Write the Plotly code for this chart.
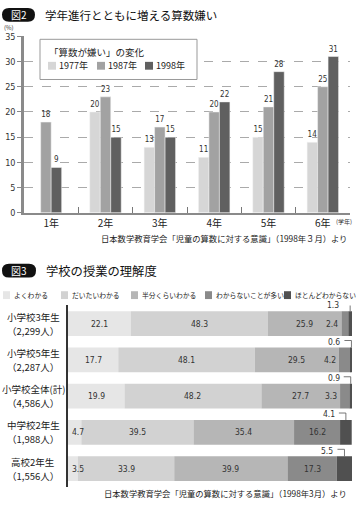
import plotly.graph_objects as go

W, H = 356, 505

# ---------------- Figure 2 data ----------------
grades = ["1年", "2年", "3年", "4年", "5年", "6年"]
years = ["1977年", "1987年", "1998年"]
dislike_1977 = [None, 20, 13, 11, 15, 14]
dislike_1987 = [18, 23, 17, 20, 21, 25]
dislike_1998 = [9, 15, 15, 22, 28, 31]
pct_ticks = [0, 5, 10, 15, 20, 25, 30, 35]

# ---------------- Figure 3 data ----------------
groups = ["小学校3年生", "小学校5年生", "小学校全体(計)", "中学校2年生", "高校2年生"]
group_n = ["（2,299人）", "（2,287人）", "（4,586人）", "（1,988人）", "（1,556人）"]
levels = ["よくわかる", "だいたいわかる", "半分くらいわかる", "わからないことが多い", "ほとんどわからない"]
yoku = [22.1, 17.7, 19.9, 4.7, 3.5]
daitai = [48.3, 48.1, 48.2, 39.5, 33.9]
hanbun = [25.9, 29.5, 27.7, 35.4, 39.9]
wakaranai = [2.4, 4.2, 3.3, 16.2, 17.3]
hotondo = [1.3, 0.6, 0.9, 4.1, 5.5]

# ---------------- styles ----------------
JP = "Noto Sans CJK JP"
NUM = "DejaVu Sans Condensed, Liberation Sans Narrow, Liberation Sans, Arial"
c2 = ["#d6d6d6", "#a2a2a2", "#606060"]
c3 = ["#e6e6e6", "#d2d2d2", "#b6b6b6", "#8a8a8a", "#505050"]


def px(x):
    return x / W


def py(y):
    return 1 - y / H


fig = go.Figure()

# ---- Figure 2 bars (grouped, with missing series collapsed) ----
series2 = [dislike_1977, dislike_1987, dislike_1998]
BW = 0.193
offsets = [[None] * len(grades) for _ in series2]
for k in range(len(grades)):
    present = [s for s in range(len(series2)) if series2[s][k] is not None]
    n = len(present)
    for j, s in enumerate(present):
        offsets[s][k] = -n * BW / 2 + j * BW
for s, vals in enumerate(series2):
    fig.add_trace(go.Bar(
        x=grades, y=vals, width=BW,
        offset=[o if o is not None else 0 for o in offsets[s]],
        marker=dict(color=c2[s], line=dict(color="#f4f4f4", width=0.5)),
        text=[str(v) if v is not None else "" for v in vals],
        textposition="outside", cliponaxis=False,
        textfont=dict(family=NUM, size=8, color="#333"),
        name=years[s], showlegend=False, xaxis="x", yaxis="y",
    ))

# ---- Figure 3 bars (stacked via base) ----
series3 = [yoku, daitai, hanbun, wakaranai, hotondo]
rows = list(range(len(groups)))
bases = []
cum = [0.0] * len(groups)
for vals in series3:
    bases.append(list(cum))
    cum = [c + v for c, v in zip(cum, vals)]
BH = 0.68
for s, vals in enumerate(series3):
    fig.add_trace(go.Bar(
        y=rows, x=vals, base=bases[s], orientation="h", width=BH,
        marker=dict(color=c3[s], line=dict(width=0)),
        name=levels[s], showlegend=False, xaxis="x2", yaxis="y2",
    ))

annotations = []
shapes = []

# segment labels for figure 3
lab_font = dict(family=NUM, size=8.5, color="#333")
for s, vals in enumerate(series3[:-1]):
    for i, v in enumerate(vals):
        b = bases[s][i]
        if s == 0 and v < 8:
            annotations.append(dict(x=0, y=i, xref="x2", yref="y2", text=f"{v:.1f}",
                                    xanchor="left", xshift=2, showarrow=False, font=lab_font))
        elif s == 3 and v < 5:
            annotations.append(dict(x=b, y=i, xref="x2", yref="y2", text=f"{v:.1f}",
                                    xanchor="right", xshift=-1, showarrow=False, font=lab_font))
        else:
            annotations.append(dict(x=b + v / 2, y=i, xref="x2", yref="y2", text=f"{v:.1f}",
                                    xanchor="center", showarrow=False, font=lab_font))
# last segment labels with leader lines
for i, v in enumerate(hotondo):
    cx = bases[4][i] + v / 2
    annotations.append(dict(x=cx, y=i - 0.5, xref="x2", yref="y2", text=f"{v:.1f}",
                            xanchor="right", yanchor="middle", xshift=-9,
                            showarrow=False, font=lab_font))
    shapes.append(dict(type="path", xref="x2", yref="y2", xsizemode="pixel", ysizemode="pixel",
                       xanchor=cx, yanchor=i - BH / 2, path="M-7,7 L0,7 L0,0",
                       line=dict(color="#555", width=0.8), layer="above"))
# row labels (two lines each)
row_font = dict(family=JP, size=9.5, color="#222")
for i, (g, n) in enumerate(zip(groups, group_n)):
    annotations.append(dict(x=px(33), y=i, xref="paper", yref="y2", text=g, yshift=7,
                            xanchor="center", yanchor="middle", showarrow=False,
                            font=row_font, borderpad=0))
    annotations.append(dict(x=px(33), y=i, xref="paper", yref="y2", text=n, yshift=-7,
                            xanchor="center", yanchor="middle", showarrow=False,
                            font=row_font, borderpad=0))

TITLES = {"図2": "学年進行とともに増える算数嫌い", "図3": "学校の授業の理解度"}


# ---- headers ----
def badge(x0, y0, x1, y1, label, tx, tsize):
    r = (y1 - y0) / 2
    path = (f"M{px(x0 + r)},{py(y0)} L{px(x1 - r)},{py(y0)} "
            f"Q{px(x1)},{py(y0)} {px(x1)},{py(y0 + r)} Q{px(x1)},{py(y1)} {px(x1 - r)},{py(y1)} "
            f"L{px(x0 + r)},{py(y1)} Q{px(x0)},{py(y1)} {px(x0)},{py(y0 + r)} "
            f"Q{px(x0)},{py(y0)} {px(x0 + r)},{py(y0)} Z")
    shapes.append(dict(type="path", xref="paper", yref="paper", path=path,
                       fillcolor="#111", line=dict(width=0), layer="above"))
    annotations.append(dict(x=px((x0 + x1) / 2), y=py((y0 + y1) / 2), xref="paper", yref="paper",
                            text=label, showarrow=False, xanchor="center", yanchor="middle",
                            font=dict(family=JP, size=10, color="white")))
    annotations.append(dict(x=px(tx), y=py((y0 + y1) / 2), xref="paper", yref="paper",
                            text=TITLES[label], showarrow=False, xanchor="left", yanchor="middle",
                            font=dict(family=JP, size=tsize, color="#111")))


badge(2, 3, 35, 17, "図2", 43, 11.5)
badge(2, 264, 36, 278, "図3", 44, 12.3)

small = dict(family=JP, size=6, color="#333")
annotations.append(dict(x=px(2), y=py(23), xref="paper", yref="paper", text="(%)",
                        showarrow=False, xanchor="left", yanchor="middle", font=small))
annotations.append(dict(x=px(353), y=py(221), xref="paper", yref="paper", text="(学年)",
                        showarrow=False, xanchor="right", yanchor="middle", font=small,
                        borderpad=0))

src_font = dict(family=JP, size=8.3, color="#222")
annotations.append(dict(x=px(349), y=py(238), xref="paper", yref="paper",
                        text="日本数学教育学会「児童の算数に対する意識」（1998年３月）より",
                        showarrow=False, xanchor="right", yanchor="middle", font=src_font))
annotations.append(dict(x=px(349), y=py(498), xref="paper", yref="paper",
                        text="日本数学教育学会「児童の算数に対する意識」（1998年3月）より",
                        showarrow=False, xanchor="right", yanchor="middle", font=src_font))

# ---- Figure 2 legend box ----
shapes.append(dict(type="rect", xref="paper", yref="paper", x0=px(40), x1=px(197),
                   y0=py(35), y1=py(76), fillcolor="white", line=dict(color="#999", width=1),
                   layer="above"))
annotations.append(dict(x=px(47), y=py(48), xref="paper", yref="paper", text="「算数が嫌い」の変化",
                        showarrow=False, xanchor="left", yanchor="middle",
                        font=dict(family=JP, size=9.5, color="#222")))
for s, (yr, sx) in enumerate(zip(years, [48, 97, 145])):
    shapes.append(dict(type="rect", xref="paper", yref="paper", x0=px(sx), x1=px(sx + 8),
                       y0=py(58), y1=py(66), fillcolor=c2[s], line=dict(width=0), layer="above"))
    annotations.append(dict(x=px(sx + 9), y=py(62), xref="paper", yref="paper", text=yr,
                            showarrow=False, xanchor="left", yanchor="middle",
                            font=dict(family=JP, size=9, color="#222")))

# ---- Figure 3 legend ----
for s, (lv, sx) in enumerate(zip(levels, [3, 61, 131, 205, 284])):
    shapes.append(dict(type="rect", xref="paper", yref="paper", x0=px(sx), x1=px(sx + 7),
                       y0=py(292), y1=py(300), fillcolor=c3[s], line=dict(width=0), layer="above"))
    annotations.append(dict(x=px(sx + 9), y=py(296), xref="paper", yref="paper", text=lv,
                            showarrow=False, xanchor="left", yanchor="middle",
                            font=dict(family=JP, size=6.8, color="#222")))

fig.update_layout(
    width=W, height=H,
    margin=dict(l=0, r=0, t=0, b=0),
    paper_bgcolor="white", plot_bgcolor="white",
    barmode="overlay",
    showlegend=False,
    xaxis=dict(domain=[px(24), px(350)], range=[-0.5, 5.5], type="category",
               showline=True, linecolor="#8a8a8a", linewidth=2,
               ticks="inside", tickson="boundaries", ticklen=6, tickcolor="#777", tickwidth=1,
               tickfont=dict(family=JP, size=10, color="#222"), showgrid=False, fixedrange=True),
    yaxis=dict(domain=[py(212), py(32)], range=[0, 35], tickvals=pct_ticks,
               showline=True, linecolor="#8a8a8a", linewidth=2.5,
               ticks="outside", ticklen=4, tickcolor="#888",
               tickfont=dict(family=NUM, size=9, color="#333"),
               showgrid=True, gridcolor="#aaaaaa", gridwidth=0.8, griddash="dash",
               zeroline=False, anchor="x"),
    xaxis2=dict(domain=[px(68), px(352)], range=[0, 100], visible=False, anchor="y2"),
    yaxis2=dict(domain=[py(491.5), py(306.5)], range=[4.5, -0.5], showline=True,
                linecolor="#333", linewidth=1.5, showticklabels=False, ticks="",
                showgrid=False, zeroline=False, anchor="x2"),
    annotations=annotations,
    shapes=shapes,
)

fig.write_html("out.html", config={"displayModeBar": False},
               post_script="document.body.style.margin='0';document.body.style.overflow='hidden';")
